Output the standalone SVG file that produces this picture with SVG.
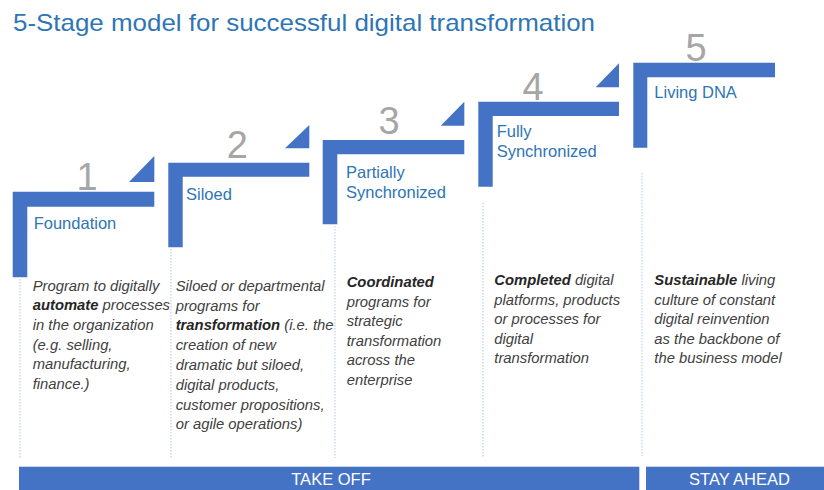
<svg xmlns="http://www.w3.org/2000/svg" width="824" height="490" viewBox="0 0 824 490">
<defs>
<style>
.bar{fill:#4472c4}
.num{font-family:"Liberation Sans",Arial,sans-serif;font-size:38px;fill:#a6a6a6;text-anchor:middle}
.lbl{font-family:"Liberation Sans",Arial,sans-serif;font-size:16.5px;fill:#2e75b6}
.body{font-family:"Liberation Sans",Arial,sans-serif;font-size:14.8px;font-style:italic;fill:#404040}
.b{font-weight:bold;fill:#262626}
.div{stroke:#b4c7e7;stroke-width:1;stroke-dasharray:1.5 1.5;fill:none}
.band{font-family:"Liberation Sans",Arial,sans-serif;font-size:16.5px;fill:#ffffff;text-anchor:middle}
</style>
</defs>
<rect width="824" height="490" fill="#ffffff"/>
<text x="13" y="31" font-family="Liberation Sans, Arial, sans-serif" font-size="24" fill="#2e75b6" textLength="582" lengthAdjust="spacingAndGlyphs">5-Stage model for successful digital transformation</text>

<g id="dividers">
<line class="div" x1="20" y1="279" x2="20" y2="458"/>
<line class="div" x1="171" y1="249" x2="171" y2="458"/>
<line class="div" x1="335" y1="226" x2="335" y2="458"/>
<line class="div" x1="483" y1="203" x2="483" y2="458"/>
<line class="div" x1="642" y1="173" x2="642" y2="456"/>
</g>

<g id="stage1">
<path class="bar" d="M12.7,191.7 H154.3 V206.7 H27.3 V277.3 H12.7 Z"/>
<polygon class="bar" points="129,182 154.3,182 154.3,156"/>
<text class="num" x="87" y="190">1</text>
<text class="lbl" x="33.7" y="229.3">Foundation</text>
<text class="body" x="32.7" y="290.7">
<tspan x="32.7" dy="0">Program to digitally</tspan>
<tspan x="32.7" dy="19.6"><tspan class="b">automate</tspan> processes</tspan>
<tspan x="32.7" dy="19.6">in the organization</tspan>
<tspan x="32.7" dy="19.6">(e.g. selling,</tspan>
<tspan x="32.7" dy="19.6">manufacturing,</tspan>
<tspan x="32.7" dy="19.6">finance.)</tspan>
</text>
</g>

<g id="stage2">
<path class="bar" d="M168.3,162.7 H309.3 V176.7 H182.7 V247.3 H168.3 Z"/>
<polygon class="bar" points="285,148.3 309.3,148.3 309.3,125"/>
<text class="num" x="237.3" y="158.3">2</text>
<text class="lbl" x="186" y="200">Siloed</text>
<text class="body" x="175.7" y="290.7">
<tspan x="175.7" dy="0">Siloed or departmental</tspan>
<tspan x="175.7" dy="19.8">programs for</tspan>
<tspan x="175.7" dy="19.8"><tspan class="b">transformation</tspan> (i.e. the</tspan>
<tspan x="175.7" dy="19.8">creation of new</tspan>
<tspan x="175.7" dy="19.8">dramatic but siloed,</tspan>
<tspan x="175.7" dy="19.8">digital products,</tspan>
<tspan x="175.7" dy="19.8">customer propositions,</tspan>
<tspan x="175.7" dy="19.8">or agile operations)</tspan>
</text>
</g>

<g id="stage3">
<path class="bar" d="M322.7,140 H464.3 V154.3 H337.3 V224.3 H322.7 Z"/>
<polygon class="bar" points="440.7,125.7 464.3,125.7 464.3,101.7"/>
<text class="num" x="389" y="134">3</text>
<text class="lbl" x="346" y="178.3">Partially</text>
<text class="lbl" x="346" y="197.7">Synchronized</text>
<text class="body" x="346.7" y="287">
<tspan x="346.7" dy="0" class="b">Coordinated</tspan>
<tspan x="346.7" dy="19.5">programs for</tspan>
<tspan x="346.7" dy="19.5">strategic</tspan>
<tspan x="346.7" dy="19.5">transformation</tspan>
<tspan x="346.7" dy="19.5">across the</tspan>
<tspan x="346.7" dy="19.5">enterprise</tspan>
</text>
</g>

<g id="stage4">
<path class="bar" d="M478.3,101.7 H619 V116 H492.7 V186.7 H478.3 Z"/>
<polygon class="bar" points="595.7,87.3 619,87.3 619,63.3"/>
<text class="num" x="533" y="100">4</text>
<text class="lbl" x="496.7" y="137">Fully</text>
<text class="lbl" x="496.7" y="156.7">Synchronized</text>
<text class="body" x="494.3" y="285">
<tspan x="494.3" dy="0"><tspan class="b">Completed</tspan> digital</tspan>
<tspan x="494.3" dy="19.5">platforms, products</tspan>
<tspan x="494.3" dy="19.5">or processes for</tspan>
<tspan x="494.3" dy="19.5">digital</tspan>
<tspan x="494.3" dy="19.5">transformation</tspan>
</text>
</g>

<g id="stage5">
<path class="bar" d="M633.3,62.7 H775 V77.3 H647.3 V147.7 H633.3 Z"/>
<text class="num" x="696" y="60.7">5</text>
<text class="lbl" x="654.3" y="98.3">Living DNA</text>
<text class="body" x="654.3" y="285">
<tspan x="654.3" dy="0"><tspan class="b">Sustainable</tspan> living</tspan>
<tspan x="654.3" dy="19.5">culture of constant</tspan>
<tspan x="654.3" dy="19.5">digital reinvention</tspan>
<tspan x="654.3" dy="19.5">as the backbone of</tspan>
<tspan x="654.3" dy="19.5">the business model</tspan>
</text>
</g>

<g id="takeoff">
<rect class="bar" x="19" y="466.7" width="620.3" height="23.3"/>
<text class="band" x="331" y="484.5">TAKE OFF</text>
</g>
<g id="stayahead">
<rect class="bar" x="646" y="466.7" width="178" height="23.3"/>
<text class="band" x="739.5" y="484.5">STAY AHEAD</text>
</g>
</svg>
